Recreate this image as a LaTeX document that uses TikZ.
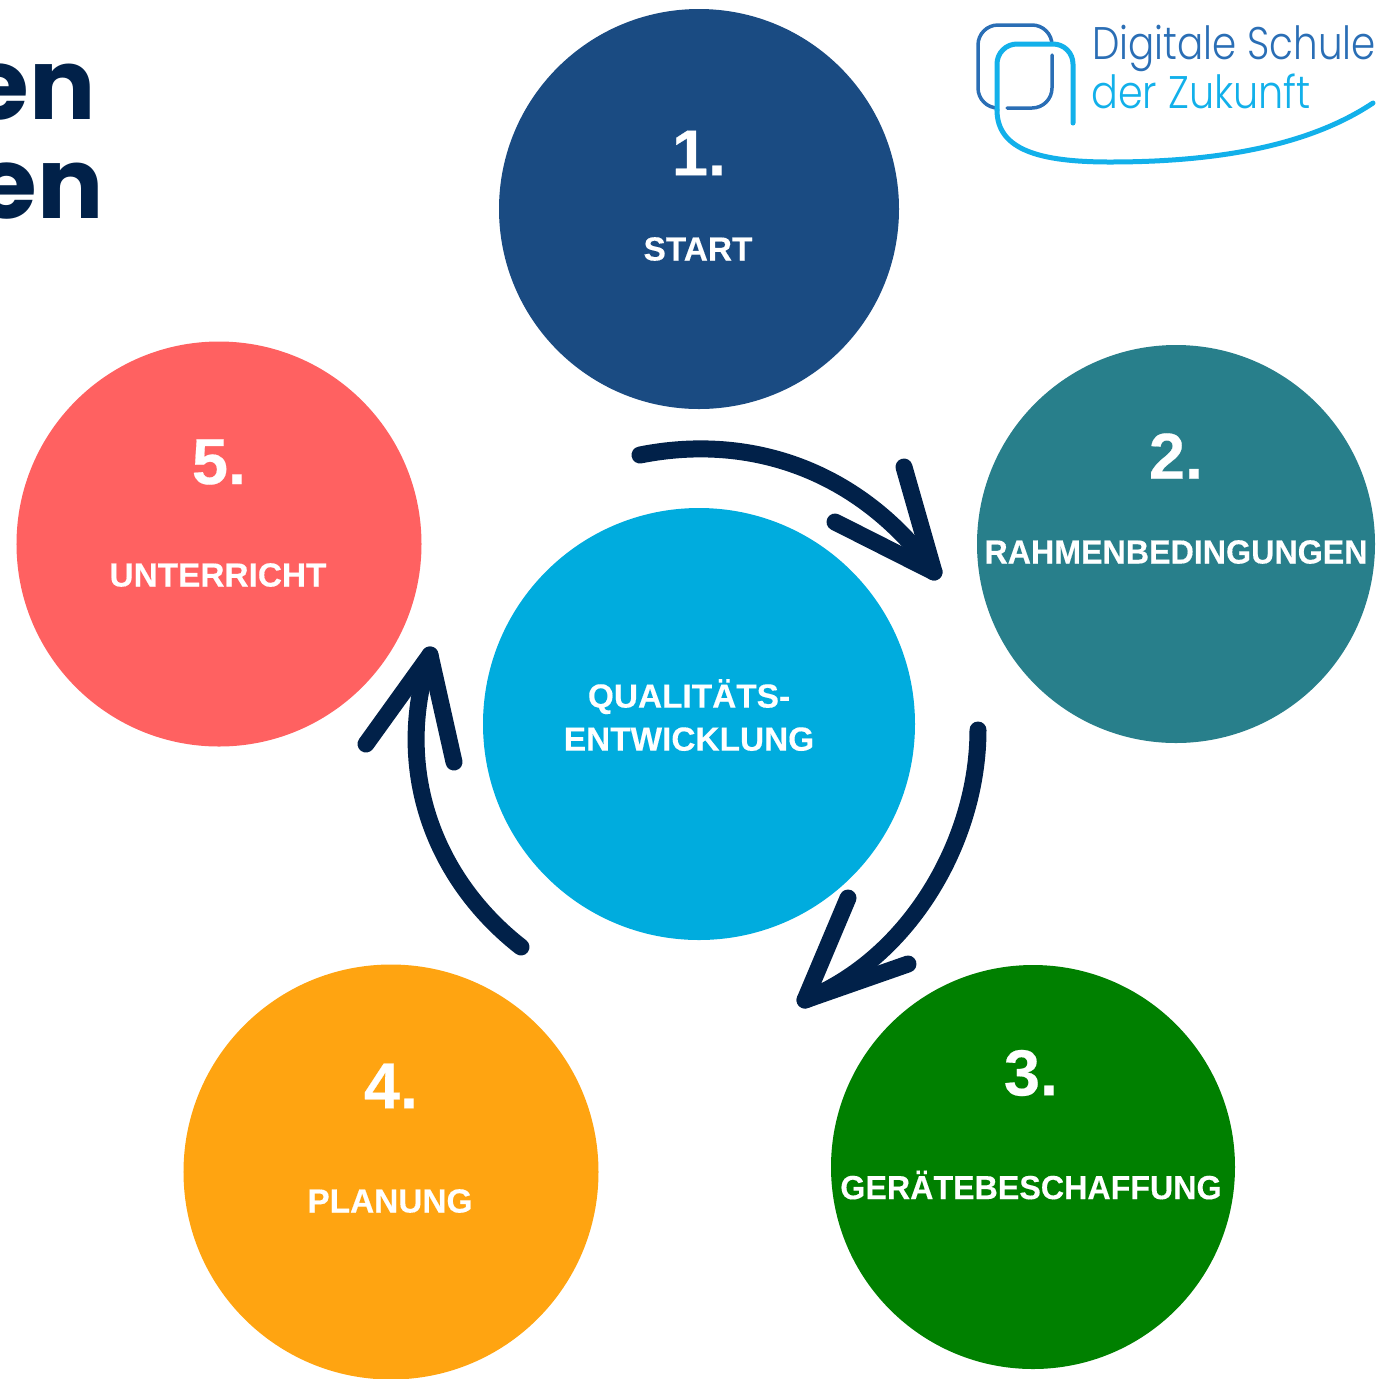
\documentclass[tikz,border=0pt]{standalone}
\usepackage{fontspec}
\setmainfont[BoldFeatures={FakeBold=0.3}]{Liberation Sans}
\newfontfamily\tightfont[FakeStretch=0.965,FakeBold=0.3]{Liberation Sans Bold}
\newfontfamily\titlefont{Poppins}
\newfontfamily\logofont[FakeStretch=0.87]{Poppins Light}
\newfontfamily\logotopfont[FakeStretch=0.85]{Poppins Light}
\definecolor{startblue}{HTML}{1A4B82}
\definecolor{frameteal}{HTML}{287F8B}
\definecolor{devicegreen}{HTML}{008000}
\definecolor{planorange}{HTML}{FFA411}
\definecolor{lessonred}{HTML}{FF6161}
\definecolor{corecyan}{HTML}{00ACDE}
\definecolor{arrownavy}{HTML}{012149}
\definecolor{logodark}{HTML}{2A6EB5}
\definecolor{logolight}{HTML}{12B0EA}
\tikzset{
  stagecircle/.style={circle, inner sep=0pt, draw=none},
  stagenum/.style={text=white, font=\fontsize{37}{37}\selectfont\bfseries},
  stagelabel/.style={text=white, font=\fontsize{19}{24.5}\selectfont\bfseries, align=center},
  longlabel/.style={stagelabel, font=\fontsize{19}{24.5}\selectfont\tightfont},
  cycleline/.style={draw=arrownavy, line width=3.4mm, line cap=round, line join=round},
  titletext/.style={text=arrownavy, anchor=base east, inner sep=0pt, font=\fontsize{56}{56}\selectfont\titlefont\bfseries},
  logotext/.style={anchor=base west, inner sep=0pt, font=\fontsize{26}{26}\selectfont\logofont},
}
\begin{document}
\begin{tikzpicture}[x=0.2mm,y=-0.2mm]
    \useasboundingbox (0,0) rectangle (1384,1378);

    % Define the circle centres
    \coordinate (c1) at (699,209);
    \coordinate (c2) at (1176,544);
    \coordinate (c3) at (1033,1167);
    \coordinate (c4) at (391,1172);
    \coordinate (c5) at (219,544);
    \coordinate (c0) at (699,724);

    % Draw the circles
    \node[stagecircle, fill=startblue, minimum size=80mm] (start) at (c1) {};
    \node[stagecircle, fill=frameteal, minimum size=79.6mm] (frame) at (c2) {};
    \node[stagecircle, fill=devicegreen, minimum size=80.8mm] (device) at (c3) {};
    \node[stagecircle, fill=planorange, minimum size=83mm] (plan) at (c4) {};
    \node[stagecircle, fill=lessonred, minimum size=81mm] (lesson) at (c5) {};
    \node[stagecircle, fill=corecyan, minimum size=86.4mm] (core) at (c0) {};

    % Numbers and labels
    \node[stagenum] (num1) at (699,153) {1.};
    \node[stagelabel] (lab1) at (698,249) {START};
    \node[stagenum] (num2) at (1176,456) {2.};
    \node[longlabel] (lab2) at (1176,552) {RAHMENBEDINGUNGEN};
    \node[stagenum] (num3) at (1031,1073) {3.};
    \node[longlabel] (lab3) at (1031,1185) {GERÄTEBESCHAFFUNG};
    \node[stagenum] (num4) at (391,1086) {4.};
    \node[stagelabel] (lab4) at (390,1201) {PLANUNG};
    \node[stagenum] (num5) at (219,462) {5.};
    \node[stagelabel] (lab5) at (218,575) {UNTERRICHT};
    \node[stagelabel] (lab0) at (689,715) {QUALITÄTS-\\ENTWICKLUNG};

    % Arrows between the stages
    \coordinate (tip1) at (934,572);
    \coordinate (tip2) at (805,1000);
    \coordinate (tip3) at (430,655);
    \draw[cycleline] (640,455) .. controls (750,433) and (860,470) .. (tip1);
    \draw[cycleline] (904,467) -- (tip1) -- (835,522);
    \draw[cycleline] (978,730) .. controls (978,840) and (910,958) .. (tip2);
    \draw[cycleline] (848,898) -- (tip2) -- (908,964);
    \draw[cycleline] (521,947) .. controls (435,880) and (392,770) .. (tip3);
    \draw[cycleline] (366,744) -- (tip3) -- (454,762);

    % Title, cut off by the page edge
    \node[titletext] (title1) at (96,119) {en};
    \node[titletext] (title2) at (104,218) {en};

    % Logo
    \draw[logodark, line width=0.7mm, line cap=round, rounded corners=4mm]
      (995,108) -- (978,108) -- (978,25) -- (1052,25) -- (1052,45);
    \draw[logodark, line width=0.7mm, line cap=round, rounded corners=4mm]
      (1052,55) -- (1052,108) -- (1007,108);
    \draw[logolight, line width=1mm, line cap=round, rounded corners=4mm]
      (1073,123) -- (1073,44) -- (997,44) -- (997,110);
    \draw[logolight, line width=1mm, line cap=round]
      (997,110) .. controls (997,150) and (1040,162) .. (1110,162)
      .. controls (1220,162) and (1310,145) .. (1373,103);
    \node[logotext, text=logodark, font=\fontsize{26}{26}\selectfont\logotopfont] (logo1) at (1092,59) {Digitale Schule};
    \node[logotext, text=logolight] (logo2) at (1091,108) {der Zukunft};
\end{tikzpicture}
\end{document}
